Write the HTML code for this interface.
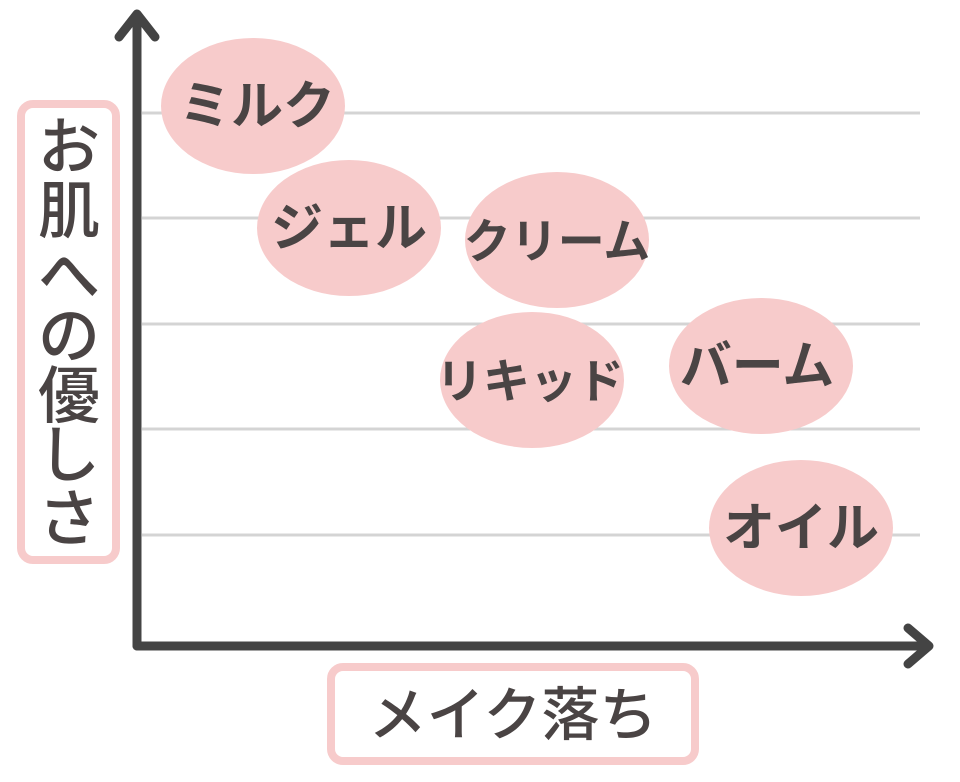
<!DOCTYPE html>
<html><head><meta charset="utf-8"><style>
html,body{margin:0;padding:0;background:#fff;}
svg text{font-family:"Liberation Sans","Noto Sans CJK JP",sans-serif;font-weight:bold;fill:#4a4444;}
svg text.m{font-weight:500;}
</style></head><body>
<svg width="960" height="777" viewBox="0 0 960 777" xmlns="http://www.w3.org/2000/svg">
<g stroke="#d4d4d4" stroke-width="3">
<line x1="142" y1="113" x2="920" y2="113"/>
<line x1="142" y1="218" x2="920" y2="218"/>
<line x1="142" y1="324" x2="920" y2="324"/>
<line x1="142" y1="429" x2="920" y2="429"/>
<line x1="142" y1="535" x2="920" y2="535"/>
</g>
<g fill="#f7cbcb">
<ellipse cx="253" cy="106" rx="92" ry="68"/>
<ellipse cx="349" cy="228" rx="92" ry="68"/>
<ellipse cx="557" cy="240" rx="92" ry="68"/>
<ellipse cx="532" cy="380" rx="92" ry="68"/>
<ellipse cx="761" cy="366" rx="92" ry="68"/>
<ellipse cx="801" cy="528" rx="92" ry="68"/>
</g>
<g font-size="52" text-anchor="middle">
<text x="257" y="124">ミルク</text>
<text x="349" y="246">ジェル</text>
<text x="557" y="258" font-size="47">クリーム</text>
<text x="530" y="398" font-size="47">リキッド</text>
<text x="757" y="384">バーム</text>
<text x="801" y="546">オイル</text>
</g>
<g stroke="#444" stroke-width="9" fill="none" stroke-linecap="round" stroke-linejoin="round">
<line x1="137" y1="646" x2="137" y2="15"/>
<polyline points="119,37 137,14 155,37"/>
<line x1="137" y1="646" x2="925" y2="646"/>
<polyline points="908,628 929,646 908,664"/>
</g>
<rect x="21" y="104" width="95" height="456" rx="12" fill="#fff" stroke="#f7cbcb" stroke-width="8"/>
<rect x="331" y="667" width="364" height="94" rx="12" fill="#fff" stroke="#f7cbcb" stroke-width="8"/>
<g font-size="62" text-anchor="middle" dominant-baseline="central">
<text class="m" x="69" y="148">お</text>
<text class="m" x="69" y="212">肌</text>
<text class="m" x="69" y="277">へ</text>
<text class="m" x="69" y="337">の</text>
<text class="m" x="69" y="397">優</text>
<text class="m" x="69" y="456">し</text>
<text class="m" x="69" y="520">さ</text>
</g>
<text class="m" x="513" y="735" font-size="58" text-anchor="middle">メイク落ち</text>
</svg>
</body></html>
